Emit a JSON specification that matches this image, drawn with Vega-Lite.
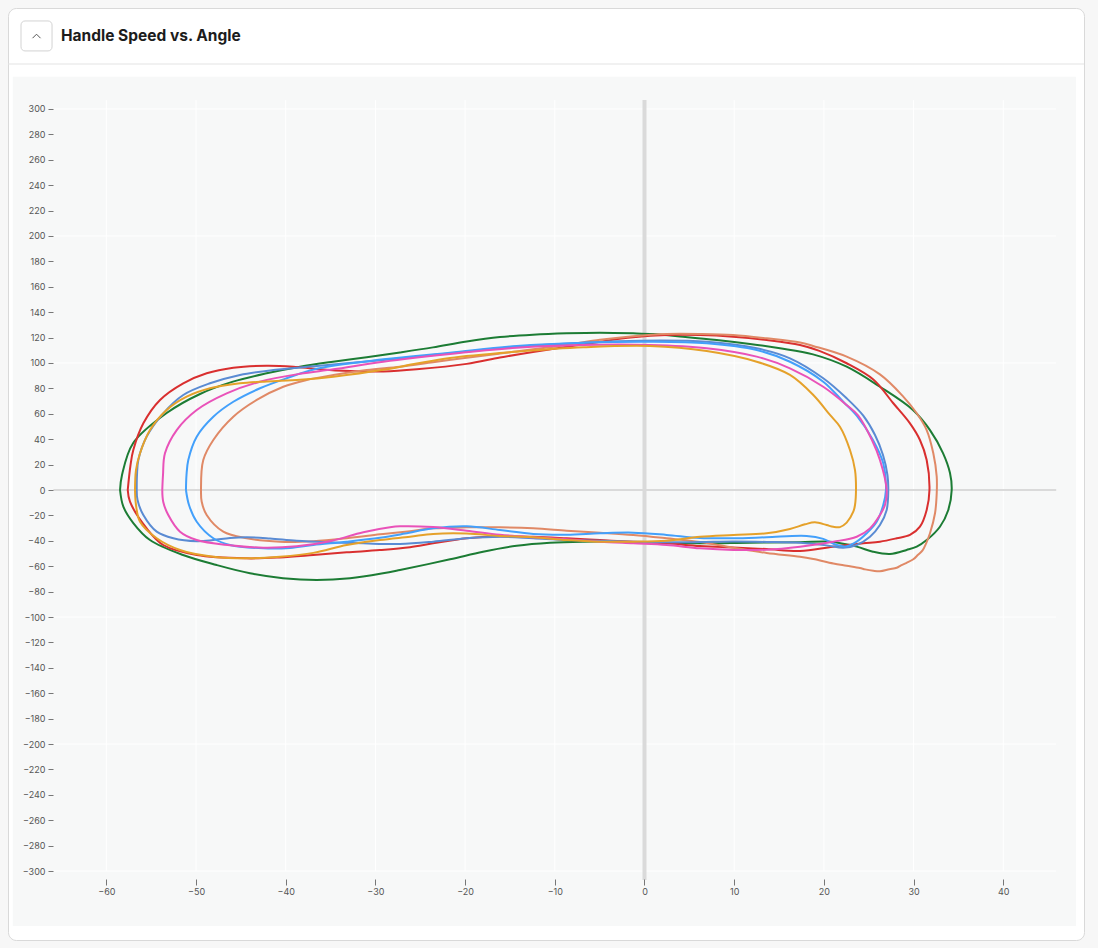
{
  "$schema": "https://vega.github.io/schema/vega-lite/v6.json",
  "width": 1076,
  "height": 932,
  "autosize": {"type": "none"},
  "padding": {"left": 8, "top": 8, "right": 14, "bottom": 8},
  "background": "#f7f7f7",
  "config": {"view": {"fill": "white", "stroke": "#d9d9d9", "strokeWidth": 1, "cornerRadius": 8}},
  "datasets": {
    "loops": [
      {"series":"green","i":0,"angle":-58.47,"speed":0},{"series":"green","i":1,"angle":-58.25,"speed":11.8},{"series":"green","i":2,"angle":-57.0,"speed":37.0},{"series":"green","i":3,"angle":-53.27,"speed":60.6},{"series":"green","i":4,"angle":-49.55,"speed":75.6},{"series":"green","i":5,"angle":-45.88,"speed":85.3},{"series":"green","i":6,"angle":-42.12,"speed":91.9},{"series":"green","i":7,"angle":-38.41,"speed":97.1},{"series":"green","i":8,"angle":-34.73,"speed":101.0},{"series":"green","i":9,"angle":-30.97,"speed":104.5},{"series":"green","i":10,"angle":-27.26,"speed":108.3},{"series":"green","i":11,"angle":-23.58,"speed":112.3},{"series":"green","i":12,"angle":-19.82,"speed":116.9},{"series":"green","i":13,"angle":-16.11,"speed":120.4},{"series":"green","i":14,"angle":-12.43,"speed":122.3},{"series":"green","i":15,"angle":-8.67,"speed":123.4},{"series":"green","i":16,"angle":-4.96,"speed":123.9},{"series":"green","i":17,"angle":-1.28,"speed":123.4},{"series":"green","i":18,"angle":0.95,"speed":122.8},{"series":"green","i":19,"angle":4.29,"speed":120.7},{"series":"green","i":20,"angle":8.05,"speed":118.1},{"series":"green","i":21,"angle":11.76,"speed":115.0},{"series":"green","i":22,"angle":15.11,"speed":111.6},{"series":"green","i":23,"angle":18.79,"speed":106.8},{"series":"green","i":24,"angle":22.54,"speed":97.1},{"series":"green","i":25,"angle":26.25,"speed":81.3},{"series":"green","i":26,"angle":29.93,"speed":63.0},{"series":"green","i":27,"angle":31.83,"speed":47.2},{"series":"green","i":28,"angle":33.28,"speed":29.1},{"series":"green","i":29,"angle":34.06,"speed":13.4},{"series":"green","i":30,"angle":34.25,"speed":0},{"series":"green","i":31,"angle":33.87,"speed":-15.7},{"series":"green","i":32,"angle":32.94,"speed":-28.9},{"series":"green","i":33,"angle":31.46,"speed":-39.4},{"series":"green","i":34,"angle":30.35,"speed":-44.6},{"series":"green","i":35,"angle":29.23,"speed":-47.2},{"series":"green","i":36,"angle":27.37,"speed":-50.4},{"series":"green","i":37,"angle":25.47,"speed":-48.6},{"series":"green","i":38,"angle":23.66,"speed":-44.6},{"series":"green","i":39,"angle":20.68,"speed":-40.7},{"series":"green","i":40,"angle":17.34,"speed":-41.2},{"series":"green","i":41,"angle":11.76,"speed":-41.5},{"series":"green","i":42,"angle":6.18,"speed":-42.0},{"series":"green","i":43,"angle":0.61,"speed":-41.5},{"series":"green","i":44,"angle":-3.1,"speed":-40.7},{"series":"green","i":45,"angle":-6.86,"speed":-40.7},{"series":"green","i":46,"angle":-10.54,"speed":-41.5},{"series":"green","i":47,"angle":-14.25,"speed":-43.9},{"series":"green","i":48,"angle":-18.0,"speed":-48.6},{"series":"green","i":49,"angle":-21.68,"speed":-54.6},{"series":"green","i":50,"angle":-27.26,"speed":-63.0},{"series":"green","i":51,"angle":-29.15,"speed":-65.6},{"series":"green","i":52,"angle":-32.83,"speed":-69.5},{"series":"green","i":53,"angle":-36.54,"speed":-70.9},{"series":"green","i":54,"angle":-40.3,"speed":-69.5},{"series":"green","i":55,"angle":-43.98,"speed":-65.6},{"series":"green","i":56,"angle":-47.69,"speed":-59.1},{"series":"green","i":57,"angle":-51.45,"speed":-51.2},{"series":"green","i":58,"angle":-55.13,"speed":-39.4},{"series":"green","i":59,"angle":-56.99,"speed":-26.0},{"series":"green","i":60,"angle":-58.1,"speed":-13.1},{"series":"green","i":61,"angle":-58.47,"speed":0},

      {"series":"red","i":0,"angle":-57.61,"speed":0},{"series":"red","i":1,"angle":-57.3,"speed":19.7},{"series":"red","i":2,"angle":-56.99,"speed":31.5},{"series":"red","i":3,"angle":-55.87,"speed":52.5},{"series":"red","i":4,"angle":-54.01,"speed":70.9},{"series":"red","i":5,"angle":-51.42,"speed":84.0},{"series":"red","i":6,"angle":-48.81,"speed":91.9},{"series":"red","i":7,"angle":-45.84,"speed":96.3},{"series":"red","i":8,"angle":-42.12,"speed":97.9},{"series":"red","i":9,"angle":-39.15,"speed":97.1},{"series":"red","i":10,"angle":-36.54,"speed":95.3},{"series":"red","i":11,"angle":-32.83,"speed":93.6},{"series":"red","i":12,"angle":-29.12,"speed":93.3},{"series":"red","i":13,"angle":-25.4,"speed":95.0},{"series":"red","i":15,"angle":-19.82,"speed":99.3},{"series":"red","i":16,"angle":-16.11,"speed":104.3},{"series":"red","i":17,"angle":-12.43,"speed":108.7},{"series":"red","i":18,"angle":-8.67,"speed":112.8},{"series":"red","i":19,"angle":-4.96,"speed":116.8},{"series":"red","i":20,"angle":-1.28,"speed":120.2},{"series":"red","i":21,"angle":2.47,"speed":122.0},{"series":"red","i":22,"angle":6.19,"speed":122.0},{"series":"red","i":23,"angle":9.87,"speed":120.7},{"series":"red","i":24,"angle":13.62,"speed":118.1},{"series":"red","i":25,"angle":17.34,"speed":114.2},{"series":"red","i":26,"angle":19.5,"speed":109.5},{"series":"red","i":27,"angle":22.54,"speed":99.8},{"series":"red","i":28,"angle":25.51,"speed":87.0},{"series":"red","i":29,"angle":27.74,"speed":68.3},{"series":"red","i":30,"angle":29.6,"speed":52.5},{"series":"red","i":31,"angle":30.71,"speed":39.4},{"series":"red","i":32,"angle":31.46,"speed":23.6},{"series":"red","i":33,"angle":31.77,"speed":0},{"series":"red","i":34,"angle":31.46,"speed":-15.7},{"series":"red","i":35,"angle":30.71,"speed":-28.9},{"series":"red","i":36,"angle":29.6,"speed":-35.4},{"series":"red","i":37,"angle":28.12,"speed":-38.0},{"series":"red","i":38,"angle":26.25,"speed":-40.7},{"series":"red","i":39,"angle":24.39,"speed":-42.0},{"series":"red","i":40,"angle":21.01,"speed":-44.6},{"series":"red","i":41,"angle":17.34,"speed":-48.0},{"series":"red","i":42,"angle":13.62,"speed":-46.5},{"series":"red","i":43,"angle":9.9,"speed":-45.3},{"series":"red","i":44,"angle":6.19,"speed":-44.1},{"series":"red","i":45,"angle":2.47,"speed":-42.0},{"series":"red","i":46,"angle":-1.25,"speed":-40.7},{"series":"red","i":47,"angle":-4.96,"speed":-39.4},{"series":"red","i":48,"angle":-8.67,"speed":-38.0},{"series":"red","i":49,"angle":-12.4,"speed":-36.8},{"series":"red","i":50,"angle":-16.11,"speed":-36.4},{"series":"red","i":51,"angle":-19.82,"speed":-38.0},{"series":"red","i":52,"angle":-23.58,"speed":-42.0},{"series":"red","i":53,"angle":-26.14,"speed":-45.0},{"series":"red","i":54,"angle":-29.5,"speed":-47.3},{"series":"red","i":55,"angle":-33.2,"speed":-49.1},{"series":"red","i":56,"angle":-36.92,"speed":-51.2},{"series":"red","i":57,"angle":-40.64,"speed":-53.1},{"series":"red","i":58,"angle":-44.35,"speed":-53.8},{"series":"red","i":59,"angle":-49.92,"speed":-51.2},{"series":"red","i":60,"angle":-53.65,"speed":-43.3},{"series":"red","i":61,"angle":-55.5,"speed":-30.2},{"series":"red","i":62,"angle":-57.36,"speed":-9.2},{"series":"red","i":63,"angle":-57.61,"speed":0},

      {"series":"salmon","i":0,"angle":-49.44,"speed":0},{"series":"salmon","i":1,"angle":-49.19,"speed":23.6},{"series":"salmon","i":2,"angle":-48.07,"speed":39.4},{"series":"salmon","i":3,"angle":-45.84,"speed":57.7},{"series":"salmon","i":4,"angle":-43.23,"speed":70.9},{"series":"salmon","i":5,"angle":-40.27,"speed":81.3},{"series":"salmon","i":6,"angle":-37.66,"speed":86.6},{"series":"salmon","i":7,"angle":-34.69,"speed":90.6},{"series":"salmon","i":8,"angle":-30.97,"speed":94.5},{"series":"salmon","i":9,"angle":-27.26,"speed":97.1},{"series":"salmon","i":10,"angle":-23.58,"speed":100.6},{"series":"salmon","i":11,"angle":-19.82,"speed":104.2},{"series":"salmon","i":12,"angle":-16.11,"speed":107.4},{"series":"salmon","i":13,"angle":-12.43,"speed":110.8},{"series":"salmon","i":14,"angle":-8.67,"speed":114.2},{"series":"salmon","i":15,"angle":-4.96,"speed":118.3},{"series":"salmon","i":16,"angle":-1.28,"speed":121.1},{"series":"salmon","i":17,"angle":2.47,"speed":122.8},{"series":"salmon","i":18,"angle":6.19,"speed":122.8},{"series":"salmon","i":19,"angle":9.87,"speed":122.0},{"series":"salmon","i":20,"angle":13.62,"speed":119.4},{"series":"salmon","i":21,"angle":17.34,"speed":116.1},{"series":"salmon","i":22,"angle":18.79,"speed":113.4},{"series":"salmon","i":23,"angle":22.54,"speed":105.0},{"series":"salmon","i":24,"angle":26.25,"speed":91.0},{"series":"salmon","i":25,"angle":28.85,"speed":73.5},{"series":"salmon","i":26,"angle":30.35,"speed":60.4},{"series":"salmon","i":27,"angle":31.46,"speed":47.2},{"series":"salmon","i":28,"angle":32.2,"speed":28.9},{"series":"salmon","i":29,"angle":32.58,"speed":10.5},{"series":"salmon","i":30,"angle":32.58,"speed":-2.6},{"series":"salmon","i":31,"angle":32.39,"speed":-18.3},{"series":"salmon","i":32,"angle":31.83,"speed":-34.1},{"series":"salmon","i":33,"angle":31.4,"speed":-42.0},{"series":"salmon","i":34,"angle":31.0,"speed":-47.6},{"series":"salmon","i":35,"angle":30.5,"speed":-51.0},{"series":"salmon","i":36,"angle":29.97,"speed":-54.5},{"series":"salmon","i":37,"angle":29.23,"speed":-57.3},{"series":"salmon","i":38,"angle":28.6,"speed":-59.3},{"series":"salmon","i":39,"angle":28.12,"speed":-61.2},{"series":"salmon","i":40,"angle":27.3,"speed":-62.4},{"series":"salmon","i":41,"angle":26.25,"speed":-64.0},{"series":"salmon","i":42,"angle":25.51,"speed":-63.6},{"series":"salmon","i":43,"angle":24.6,"speed":-62.5},{"series":"salmon","i":44,"angle":24.02,"speed":-61.4},{"series":"salmon","i":45,"angle":22.54,"speed":-59.6},{"series":"salmon","i":46,"angle":21.05,"speed":-57.8},{"series":"salmon","i":47,"angle":18.82,"speed":-54.3},{"series":"salmon","i":48,"angle":17.34,"speed":-52.5},{"series":"salmon","i":49,"angle":13.62,"speed":-49.6},{"series":"salmon","i":50,"angle":9.9,"speed":-45.5},{"series":"salmon","i":51,"angle":6.19,"speed":-40.9},{"series":"salmon","i":52,"angle":2.47,"speed":-38.0},{"series":"salmon","i":53,"angle":-1.25,"speed":-35.4},{"series":"salmon","i":54,"angle":-4.96,"speed":-33.6},{"series":"salmon","i":55,"angle":-8.67,"speed":-32.0},{"series":"salmon","i":56,"angle":-12.4,"speed":-30.2},{"series":"salmon","i":57,"angle":-16.11,"speed":-29.4},{"series":"salmon","i":58,"angle":-19.82,"speed":-29.4},{"series":"salmon","i":59,"angle":-23.55,"speed":-30.2},{"series":"salmon","i":60,"angle":-26.14,"speed":-32.4},{"series":"salmon","i":61,"angle":-29.49,"speed":-34.9},{"series":"salmon","i":62,"angle":-33.2,"speed":-38.0},{"series":"salmon","i":63,"angle":-36.92,"speed":-40.3},{"series":"salmon","i":64,"angle":-40.64,"speed":-40.7},{"series":"salmon","i":65,"angle":-44.35,"speed":-38.0},{"series":"salmon","i":66,"angle":-46.96,"speed":-32.8},{"series":"salmon","i":67,"angle":-48.81,"speed":-19.7},{"series":"salmon","i":68,"angle":-49.37,"speed":-9.0},{"series":"salmon","i":69,"angle":-49.44,"speed":0},

      {"series":"steelblue","i":0,"angle":-56.61,"speed":0},{"series":"steelblue","i":1,"angle":-56.58,"speed":11.8},{"series":"steelblue","i":2,"angle":-56.43,"speed":23.6},{"series":"steelblue","i":3,"angle":-55.5,"speed":42.0},{"series":"steelblue","i":4,"angle":-53.65,"speed":60.4},{"series":"steelblue","i":5,"angle":-51.42,"speed":74.8},{"series":"steelblue","i":6,"angle":-48.44,"speed":84.0},{"series":"steelblue","i":7,"angle":-45.1,"speed":90.6},{"series":"steelblue","i":8,"angle":-41.38,"speed":94.5},{"series":"steelblue","i":9,"angle":-36.54,"speed":97.6},{"series":"steelblue","i":10,"angle":-29.12,"speed":102.4},{"series":"steelblue","i":11,"angle":-21.68,"speed":107.6},{"series":"steelblue","i":12,"angle":-14.25,"speed":112.8},{"series":"steelblue","i":13,"angle":-6.82,"speed":116.0},{"series":"steelblue","i":14,"angle":-0.5,"speed":117.6},{"series":"steelblue","i":15,"angle":6.93,"speed":116.8},{"series":"steelblue","i":16,"angle":12.51,"speed":111.6},{"series":"steelblue","i":17,"angle":16.22,"speed":103.7},{"series":"steelblue","i":18,"angle":19.93,"speed":88.0},{"series":"steelblue","i":19,"angle":22.54,"speed":72.2},{"series":"steelblue","i":20,"angle":24.39,"speed":58.5},{"series":"steelblue","i":21,"angle":25.7,"speed":43.3},{"series":"steelblue","i":22,"angle":26.59,"speed":27.6},{"series":"steelblue","i":23,"angle":27.09,"speed":11.8},{"series":"steelblue","i":24,"angle":27.18,"speed":0},{"series":"steelblue","i":25,"angle":27.0,"speed":-15.7},{"series":"steelblue","i":26,"angle":26.25,"speed":-27.6},{"series":"steelblue","i":27,"angle":25.14,"speed":-36.8},{"series":"steelblue","i":28,"angle":23.66,"speed":-43.3},{"series":"steelblue","i":29,"angle":22.16,"speed":-45.5},{"series":"steelblue","i":30,"angle":20.31,"speed":-43.6},{"series":"steelblue","i":31,"angle":17.34,"speed":-41.6},{"series":"steelblue","i":32,"angle":13.62,"speed":-40.9},{"series":"steelblue","i":33,"angle":9.9,"speed":-40.6},{"series":"steelblue","i":34,"angle":6.19,"speed":-41.0},{"series":"steelblue","i":35,"angle":2.47,"speed":-41.2},{"series":"steelblue","i":36,"angle":-1.25,"speed":-40.7},{"series":"steelblue","i":37,"angle":-4.96,"speed":-39.9},{"series":"steelblue","i":38,"angle":-8.67,"speed":-39.4},{"series":"steelblue","i":39,"angle":-12.4,"speed":-38.0},{"series":"steelblue","i":40,"angle":-16.11,"speed":-36.8},{"series":"steelblue","i":41,"angle":-19.82,"speed":-38.0},{"series":"steelblue","i":42,"angle":-23.55,"speed":-40.7},{"series":"steelblue","i":43,"angle":-27.26,"speed":-42.5},{"series":"steelblue","i":44,"angle":-31.35,"speed":-42.0},{"series":"steelblue","i":45,"angle":-35.06,"speed":-41.2},{"series":"steelblue","i":46,"angle":-38.77,"speed":-40.0},{"series":"steelblue","i":47,"angle":-41.75,"speed":-38.2},{"series":"steelblue","i":48,"angle":-44.35,"speed":-37.2},{"series":"steelblue","i":49,"angle":-46.21,"speed":-37.8},{"series":"steelblue","i":50,"angle":-48.07,"speed":-39.4},{"series":"steelblue","i":51,"angle":-49.92,"speed":-40.3},{"series":"steelblue","i":52,"angle":-52.53,"speed":-38.0},{"series":"steelblue","i":53,"angle":-54.38,"speed":-32.8},{"series":"steelblue","i":54,"angle":-55.87,"speed":-19.7},{"series":"steelblue","i":55,"angle":-56.52,"speed":-7.9},{"series":"steelblue","i":56,"angle":-56.61,"speed":0},

      {"series":"blue","i":0,"angle":-51.12,"speed":0},{"series":"blue","i":1,"angle":-51.06,"speed":11.8},{"series":"blue","i":2,"angle":-50.86,"speed":23.6},{"series":"blue","i":3,"angle":-49.92,"speed":42.0},{"series":"blue","i":4,"angle":-48.07,"speed":57.7},{"series":"blue","i":5,"angle":-45.84,"speed":69.5},{"series":"blue","i":6,"angle":-42.87,"speed":80.1},{"series":"blue","i":7,"angle":-39.89,"speed":88.0},{"series":"blue","i":8,"angle":-36.54,"speed":95.5},{"series":"blue","i":9,"angle":-29.12,"speed":102.9},{"series":"blue","i":10,"angle":-21.68,"speed":108.1},{"series":"blue","i":11,"angle":-14.25,"speed":113.4},{"series":"blue","i":12,"angle":-6.82,"speed":116.0},{"series":"blue","i":13,"angle":0.61,"speed":116.8},{"series":"blue","i":14,"angle":6.93,"speed":115.5},{"series":"blue","i":15,"angle":12.51,"speed":110.2},{"series":"blue","i":16,"angle":16.22,"speed":101.0},{"series":"blue","i":17,"angle":19.93,"speed":85.3},{"series":"blue","i":18,"angle":22.16,"speed":69.5},{"series":"blue","i":19,"angle":23.66,"speed":58.6},{"series":"blue","i":20,"angle":25.47,"speed":39.4},{"series":"blue","i":21,"angle":26.62,"speed":21.0},{"series":"blue","i":22,"angle":26.92,"speed":0},{"series":"blue","i":23,"angle":26.62,"speed":-11.8},{"series":"blue","i":24,"angle":25.89,"speed":-25.0},{"series":"blue","i":25,"angle":24.77,"speed":-34.1},{"series":"blue","i":26,"angle":23.66,"speed":-40.7},{"series":"blue","i":27,"angle":22.54,"speed":-44.3},{"series":"blue","i":28,"angle":21.43,"speed":-43.3},{"series":"blue","i":29,"angle":19.93,"speed":-38.5},{"series":"blue","i":30,"angle":18.08,"speed":-36.2},{"series":"blue","i":31,"angle":13.62,"speed":-37.2},{"series":"blue","i":32,"angle":9.9,"speed":-38.0},{"series":"blue","i":33,"angle":6.19,"speed":-37.8},{"series":"blue","i":34,"angle":2.47,"speed":-35.4},{"series":"blue","i":35,"angle":-1.25,"speed":-33.6},{"series":"blue","i":36,"angle":-4.96,"speed":-34.1},{"series":"blue","i":37,"angle":-8.67,"speed":-35.2},{"series":"blue","i":38,"angle":-12.4,"speed":-34.6},{"series":"blue","i":39,"angle":-16.11,"speed":-31.5},{"series":"blue","i":40,"angle":-19.82,"speed":-28.6},{"series":"blue","i":41,"angle":-23.55,"speed":-30.2},{"series":"blue","i":42,"angle":-26.7,"speed":-34.3},{"series":"blue","i":43,"angle":-29.49,"speed":-37.6},{"series":"blue","i":44,"angle":-33.2,"speed":-40.7},{"series":"blue","i":45,"angle":-36.92,"speed":-43.3},{"series":"blue","i":46,"angle":-39.52,"speed":-45.6},{"series":"blue","i":47,"angle":-42.5,"speed":-45.9},{"series":"blue","i":48,"angle":-46.21,"speed":-43.3},{"series":"blue","i":49,"angle":-48.07,"speed":-38.0},{"series":"blue","i":50,"angle":-49.92,"speed":-25.0},{"series":"blue","i":51,"angle":-50.78,"speed":-11.8},{"series":"blue","i":52,"angle":-51.12,"speed":0},

      {"series":"pink","i":0,"angle":-53.76,"speed":0},{"series":"pink","i":1,"angle":-53.68,"speed":11.8},{"series":"pink","i":2,"angle":-53.46,"speed":28.9},{"series":"pink","i":3,"angle":-52.15,"speed":47.2},{"series":"pink","i":4,"angle":-49.92,"speed":63.0},{"series":"pink","i":5,"angle":-46.58,"speed":76.1},{"series":"pink","i":6,"angle":-42.87,"speed":85.3},{"series":"pink","i":7,"angle":-38.41,"speed":91.5},{"series":"pink","i":8,"angle":-34.69,"speed":95.0},{"series":"pink","i":9,"angle":-29.12,"speed":101.0},{"series":"pink","i":10,"angle":-21.68,"speed":107.1},{"series":"pink","i":11,"angle":-14.25,"speed":112.0},{"series":"pink","i":12,"angle":-6.82,"speed":114.2},{"series":"pink","i":13,"angle":0.61,"speed":114.2},{"series":"pink","i":14,"angle":6.93,"speed":111.6},{"series":"pink","i":15,"angle":12.51,"speed":105.0},{"series":"pink","i":16,"angle":16.22,"speed":95.8},{"series":"pink","i":17,"angle":19.93,"speed":81.3},{"series":"pink","i":18,"angle":22.54,"speed":66.9},{"series":"pink","i":19,"angle":23.83,"speed":58.6},{"series":"pink","i":20,"angle":25.36,"speed":39.4},{"series":"pink","i":21,"angle":26.25,"speed":23.6},{"series":"pink","i":22,"angle":27.0,"speed":0},{"series":"pink","i":23,"angle":26.81,"speed":-11.8},{"series":"pink","i":24,"angle":26.25,"speed":-19.7},{"series":"pink","i":25,"angle":25.14,"speed":-30.2},{"series":"pink","i":26,"angle":23.66,"speed":-36.8},{"series":"pink","i":27,"angle":21.05,"speed":-40.7},{"series":"pink","i":28,"angle":17.34,"speed":-44.6},{"series":"pink","i":29,"angle":13.62,"speed":-47.0},{"series":"pink","i":30,"angle":9.9,"speed":-47.2},{"series":"pink","i":31,"angle":6.19,"speed":-45.9},{"series":"pink","i":32,"angle":2.47,"speed":-43.3},{"series":"pink","i":33,"angle":-1.25,"speed":-42.0},{"series":"pink","i":34,"angle":-4.96,"speed":-40.7},{"series":"pink","i":35,"angle":-8.67,"speed":-38.8},{"series":"pink","i":36,"angle":-12.4,"speed":-37.2},{"series":"pink","i":37,"angle":-16.11,"speed":-35.2},{"series":"pink","i":38,"angle":-19.82,"speed":-32.0},{"series":"pink","i":39,"angle":-23.55,"speed":-29.2},{"series":"pink","i":40,"angle":-27.26,"speed":-28.6},{"series":"pink","i":41,"angle":-28.37,"speed":-29.3},{"series":"pink","i":42,"angle":-31.35,"speed":-33.2},{"series":"pink","i":43,"angle":-35.06,"speed":-40.3},{"series":"pink","i":44,"angle":-38.77,"speed":-44.3},{"series":"pink","i":45,"angle":-42.5,"speed":-45.4},{"series":"pink","i":46,"angle":-46.21,"speed":-43.5},{"series":"pink","i":47,"angle":-49.92,"speed":-39.4},{"series":"pink","i":48,"angle":-51.78,"speed":-32.8},{"series":"pink","i":49,"angle":-53.09,"speed":-19.7},{"series":"pink","i":50,"angle":-53.65,"speed":-9.4},{"series":"pink","i":51,"angle":-53.76,"speed":0},

      {"series":"orange","i":0,"angle":-56.8,"speed":0},{"series":"orange","i":1,"angle":-56.69,"speed":15.7},{"series":"orange","i":2,"angle":-56.24,"speed":28.9},{"series":"orange","i":3,"angle":-55.13,"speed":47.2},{"series":"orange","i":4,"angle":-53.27,"speed":63.0},{"series":"orange","i":5,"angle":-51.04,"speed":73.5},{"series":"orange","i":6,"angle":-48.44,"speed":80.1},{"series":"orange","i":7,"angle":-45.1,"speed":84.0},{"series":"orange","i":8,"angle":-42.12,"speed":85.5},{"series":"orange","i":9,"angle":-38.41,"speed":86.8},{"series":"orange","i":10,"angle":-34.69,"speed":89.2},{"series":"orange","i":11,"angle":-29.12,"speed":94.6},{"series":"orange","i":12,"angle":-25.4,"speed":99.6},{"series":"orange","i":13,"angle":-21.68,"speed":104.0},{"series":"orange","i":14,"angle":-14.25,"speed":108.9},{"series":"orange","i":15,"angle":-6.82,"speed":112.4},{"series":"orange","i":16,"angle":0.61,"speed":113.4},{"series":"orange","i":17,"angle":6.93,"speed":109.4},{"series":"orange","i":18,"angle":12.51,"speed":101.0},{"series":"orange","i":19,"angle":16.22,"speed":90.6},{"series":"orange","i":20,"angle":18.82,"speed":74.8},{"series":"orange","i":21,"angle":20.68,"speed":59.1},{"series":"orange","i":22,"angle":21.79,"speed":49.8},{"series":"orange","i":23,"angle":22.91,"speed":31.5},{"series":"orange","i":24,"angle":23.47,"speed":15.7},{"series":"orange","i":25,"angle":23.58,"speed":0},{"series":"orange","i":26,"angle":23.47,"speed":-11.8},{"series":"orange","i":27,"angle":23.28,"speed":-17.1},{"series":"orange","i":28,"angle":22.54,"speed":-25.7},{"series":"orange","i":29,"angle":21.79,"speed":-29.2},{"series":"orange","i":30,"angle":21.05,"speed":-29.0},{"series":"orange","i":31,"angle":20.31,"speed":-27.6},{"series":"orange","i":32,"angle":19.0,"speed":-25.4},{"series":"orange","i":33,"angle":17.9,"speed":-27.0},{"series":"orange","i":34,"angle":16.22,"speed":-30.7},{"series":"orange","i":35,"angle":13.62,"speed":-34.1},{"series":"orange","i":36,"angle":9.9,"speed":-35.4},{"series":"orange","i":37,"angle":6.19,"speed":-36.8},{"series":"orange","i":38,"angle":2.47,"speed":-39.9},{"series":"orange","i":39,"angle":-1.25,"speed":-40.7},{"series":"orange","i":40,"angle":-4.96,"speed":-40.7},{"series":"orange","i":41,"angle":-8.67,"speed":-39.4},{"series":"orange","i":42,"angle":-12.4,"speed":-37.2},{"series":"orange","i":43,"angle":-16.11,"speed":-36.2},{"series":"orange","i":44,"angle":-19.82,"speed":-34.3},{"series":"orange","i":45,"angle":-23.55,"speed":-34.6},{"series":"orange","i":46,"angle":-26.14,"speed":-36.8},{"series":"orange","i":47,"angle":-29.49,"speed":-39.4},{"series":"orange","i":48,"angle":-33.2,"speed":-43.3},{"series":"orange","i":49,"angle":-36.92,"speed":-49.5},{"series":"orange","i":50,"angle":-40.64,"speed":-52.5},{"series":"orange","i":51,"angle":-44.35,"speed":-53.8},{"series":"orange","i":52,"angle":-48.07,"speed":-52.5},{"series":"orange","i":53,"angle":-51.78,"speed":-47.2},{"series":"orange","i":54,"angle":-54.38,"speed":-38.0},{"series":"orange","i":55,"angle":-56.24,"speed":-25.0},{"series":"orange","i":56,"angle":-56.69,"speed":-11.8},{"series":"orange","i":57,"angle":-56.8,"speed":0}
    ],
    "vgrid": [{"v":-60},{"v":-50},{"v":-40},{"v":-30},{"v":-20},{"v":-10},{"v":10},{"v":20},{"v":30},{"v":40}],
    "hgrid": [{"v":-300},{"v":-200},{"v":-100},{"v":100},{"v":200},{"v":300}],
    "one": [{}]
  },
  "layer": [
    {
      "data": {"name": "loops"},
      "mark": {"type": "line", "strokeWidth": 2, "interpolate": "catmull-rom", "opacity": 0},
      "encoding": {
        "x": {
          "field": "angle", "type": "quantitative",
          "scale": {"domain": [-70.96, 49.0], "nice": false, "zero": false},
          "axis": {"title": null, "values": [-60,-50,-40,-30,-20,-10,0,10,20,30,40], "tickCount": 50, "domain": false, "grid": false, "offset": -61, "tickSize": 6, "tickColor": "#777777", "tickWidth": 1, "labelFont": "Inter", "labelFontSize": 9, "labelColor": "#555555", "labelPadding": 2, "labelOverlap": false, "zindex": 1}
        },
        "y": {
          "field": "speed", "type": "quantitative",
          "scale": {"domain": [-354.3, 379.5], "nice": false, "zero": false},
          "axis": {"title": null, "values": [-300,-280,-260,-240,-220,-200,-180,-160,-140,-120,-100,-80,-60,-40,-20,0,20,40,60,80,100,120,140,160,180,200,220,240,260,280,300], "tickCount": 50, "domain": false, "grid": false, "offset": -45, "tickSize": 5, "tickColor": "#777777", "tickWidth": 1, "labelFont": "Inter", "labelFontSize": 9, "labelColor": "#555555", "labelPadding": 3, "labelOverlap": false, "zindex": 1}
        },
        "detail": {"field": "series", "type": "nominal"},
        "order": {"field": "i", "type": "quantitative"}
      }
    },
    {
      "data": {"name": "one"},
      "mark": {"type": "rect", "fill": "#f7f8f8"},
      "encoding": {
        "x": {"datum": -70.43, "type": "quantitative"},
        "x2": {"datum": 48.1},
        "y": {"datum": 325.4, "type": "quantitative"},
        "y2": {"datum": -343.3}
      }
    },
    {
      "data": {"name": "one"},
      "mark": {"type": "rule", "color": "#e3e3e3", "strokeWidth": 1},
      "encoding": {
        "x": {"datum": -70.96, "type": "quantitative"},
        "x2": {"datum": 49.0},
        "y": {"datum": 335.4, "type": "quantitative"}
      }
    },
    {
      "data": {"name": "one"},
      "mark": {"type": "rect", "fill": "white", "stroke": "#d3d3d3", "strokeWidth": 1, "cornerRadius": 4},
      "encoding": {
        "x": {"datum": -69.51, "type": "quantitative"},
        "x2": {"datum": -66.05},
        "y": {"datum": 369.3, "type": "quantitative"},
        "y2": {"datum": 345.7}
      }
    },
    {
      "data": {"name": "one"},
      "mark": {"type": "point", "shape": "M -1 0.5 L 0 -0.5 L 1 0.5", "filled": false, "size": 64, "stroke": "#555555", "strokeWidth": 1, "opacity": 1},
      "encoding": {
        "x": {"datum": -67.78, "type": "quantitative"},
        "y": {"datum": 357.3, "type": "quantitative"}
      }
    },
    {
      "data": {"name": "one"},
      "mark": {"type": "text", "text": "Handle Speed vs. Angle", "align": "left", "baseline": "middle", "font": "Inter", "fontSize": 15.5, "fontWeight": "bold", "color": "#1c1c1c"},
      "encoding": {
        "x": {"datum": -65.05, "type": "quantitative"},
        "y": {"datum": 357.1, "type": "quantitative"}
      }
    },
    {
      "data": {"name": "vgrid"},
      "mark": {"type": "rule", "color": "white", "strokeWidth": 1},
      "encoding": {
        "x": {"field": "v", "type": "quantitative"},
        "y": {"datum": 307, "type": "quantitative"},
        "y2": {"datum": -300}
      }
    },
    {
      "data": {"name": "hgrid"},
      "mark": {"type": "rule", "color": "white", "strokeWidth": 1},
      "encoding": {
        "y": {"field": "v", "type": "quantitative"},
        "x": {"datum": -65.9, "type": "quantitative"},
        "x2": {"datum": 45.9}
      }
    },
    {
      "data": {"name": "one"},
      "mark": {"type": "rule", "color": "#dadada", "strokeWidth": 2},
      "encoding": {
        "y": {"datum": 0, "type": "quantitative"},
        "x": {"datum": -65.9, "type": "quantitative"},
        "x2": {"datum": 45.9}
      }
    },
    {
      "data": {"name": "one"},
      "mark": {"type": "rule", "color": "#dadada", "strokeWidth": 4},
      "encoding": {
        "x": {"datum": 0, "type": "quantitative"},
        "y": {"datum": 307, "type": "quantitative"},
        "y2": {"datum": -307}
      }
    },
    {
      "data": {"name": "loops"},
      "mark": {"type": "line", "strokeWidth": 2, "interpolate": "catmull-rom"},
      "encoding": {
        "x": {"field": "angle", "type": "quantitative"},
        "y": {"field": "speed", "type": "quantitative"},
        "color": {
          "field": "series", "type": "nominal",
          "scale": {"domain": ["orange","pink","blue","steelblue","salmon","red","green"], "range": ["#e5a12a","#e952b9","#43a0fb","#5a8bd3","#e08966","#d92f2f","#1c7c34"]},
          "legend": null
        },
        "order": {"field": "i", "type": "quantitative"}
      }
    }
  ]
}
